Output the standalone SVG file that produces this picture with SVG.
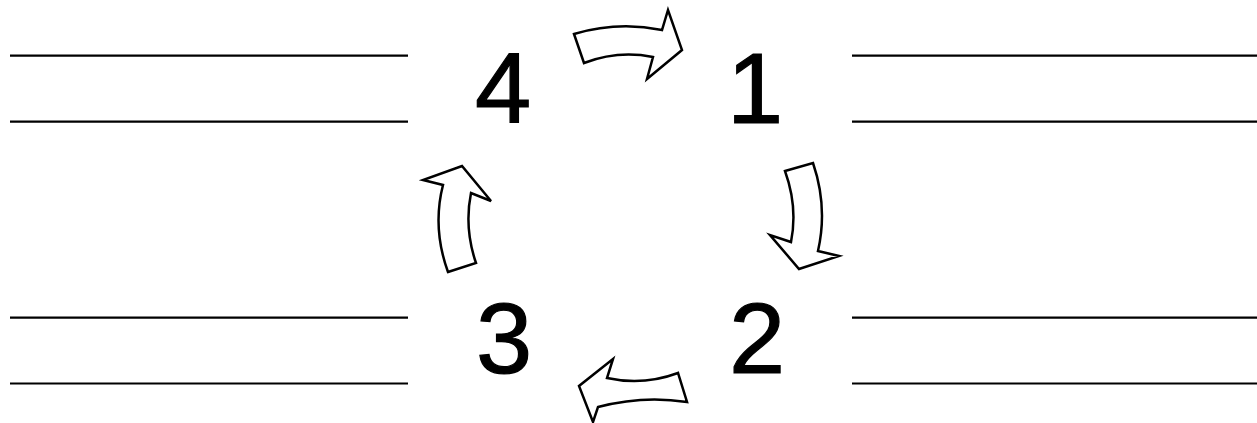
<svg xmlns="http://www.w3.org/2000/svg" width="1257" height="423" viewBox="0 0 1257 423">
<style>
.ln{stroke:#000;stroke-width:2.2;fill:none}
.ar{fill:#fff;stroke:#000;stroke-width:2.5;stroke-linejoin:miter}
.num{font-family:"Liberation Sans",Arial,sans-serif;font-size:101px;fill:#000;stroke:#000;stroke-width:1.2;text-anchor:middle}
</style>
<rect width="1257" height="423" fill="#fff"/>
<g id="lines">
<line class="ln" x1="10" y1="55.7" x2="408" y2="55.7"/>
<line class="ln" x1="10" y1="121.7" x2="408" y2="121.7"/>
<line class="ln" x1="852" y1="55.7" x2="1257" y2="55.7"/>
<line class="ln" x1="852" y1="121.7" x2="1257" y2="121.7"/>
<line class="ln" x1="10" y1="317.7" x2="408" y2="317.7"/>
<line class="ln" x1="10" y1="383.5" x2="408" y2="383.5"/>
<line class="ln" x1="852" y1="317.7" x2="1257" y2="317.7"/>
<line class="ln" x1="852" y1="383.5" x2="1257" y2="383.5"/>
</g>
<g id="node1"><text class="num" x="755" y="123">1</text></g>
<g id="node2"><text class="num" x="757" y="373">2</text></g>
<g id="node3"><text class="num" x="504" y="373">3</text></g>
<g id="node4"><text class="num" x="503" y="123">4</text></g>
<g id="connectors">
<path class="ar" d="M574,34 Q618,21 662,30 L668,10 L682,50 L647,79 L653,57 Q618,50 584,63 Z"/>
<path class="ar" d="M785,171 L813,163 Q828,207 818,251 L839,256 L799,269 L770,235 L791,242 Q798,207 785,171 Z"/>
<path class="ar" d="M678,373 Q643,386 607,378 L613,359 L579,386 L593,422 L598,407 Q643,395 687,402 Z"/>
<path class="ar" d="M448,272 L476,263 Q464,228 471,193 L491,201 L462,166 L423,180 L443,185 Q432,228 448,272 Z"/>
</g>
</svg>
